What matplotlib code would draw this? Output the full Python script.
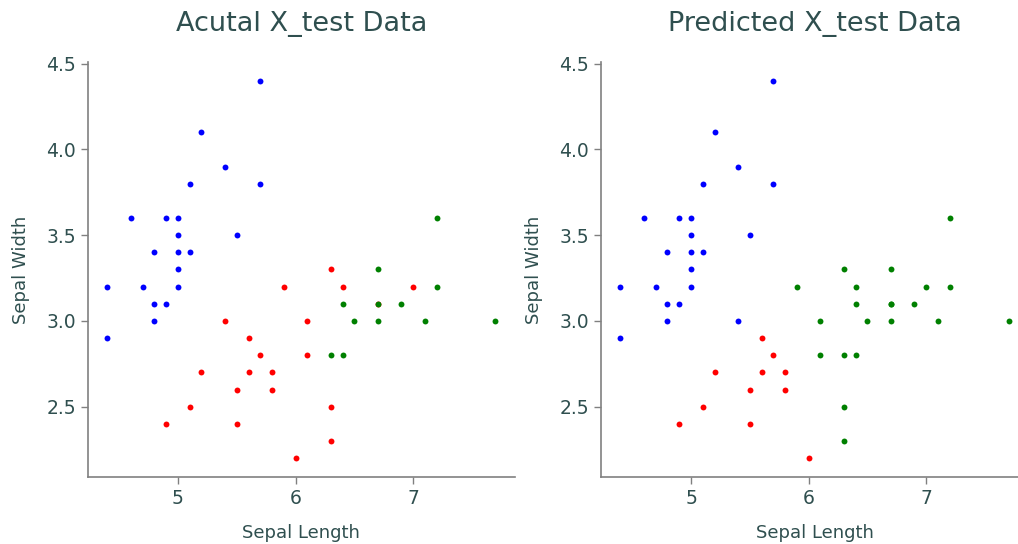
import matplotlib
matplotlib.use("Agg")
import matplotlib.pyplot as plt

# Test-set points (sepal length, sepal width), actual class and predicted class
sepal_length = [5.7, 5.2, 5.4, 5.1, 5.7, 4.6, 4.9, 5.0, 5.0, 5.5, 4.8, 5.0, 5.1, 5.0,
                4.4, 4.7, 5.0, 4.8, 4.9, 4.8, 4.4,
                5.9, 5.4, 5.6, 5.7, 5.2, 5.6, 5.8, 5.5, 5.8, 5.1, 4.9, 5.5, 6.0,
                6.3, 6.4, 7.0, 6.7, 6.1, 6.1, 6.3, 6.3,
                7.2, 6.7, 7.2, 6.4, 6.7, 6.9, 6.5, 6.7, 7.1, 7.7, 6.3, 6.4]
sepal_width = [4.4, 4.1, 3.9, 3.8, 3.8, 3.6, 3.6, 3.6, 3.5, 3.5, 3.4, 3.4, 3.4, 3.3,
               3.2, 3.2, 3.2, 3.1, 3.1, 3.0, 2.9,
               3.2, 3.0, 2.9, 2.8, 2.7, 2.7, 2.7, 2.6, 2.6, 2.5, 2.4, 2.4, 2.2,
               3.3, 3.2, 3.2, 3.1, 3.0, 2.8, 2.5, 2.3,
               3.6, 3.3, 3.2, 3.1, 3.1, 3.1, 3.0, 3.0, 3.0, 3.0, 2.8, 2.8]
actual = [0] * 21 + [1] * 21 + [2] * 12
predicted = ([0] * 21 +
             [2, 0, 1, 1, 1, 1, 1, 1, 1, 1, 1, 1, 1] +
             [2, 2, 2, 2, 2, 2, 2, 2] +
             [2] * 12)
class_colors = ["blue", "red", "green"]
titles = ["Acutal X_test Data", "Predicted X_test Data"]

text_color = "#2F4F4F"
spine_color = "#808080"

fig = plt.figure(figsize=(10.18, 5.44), dpi=100)
positions = [[0.0864, 0.1232, 0.4194, 0.7629], [0.5904, 0.1232, 0.4194, 0.7629]]

for pos, labels, title in zip(positions, [actual, predicted], titles):
    ax = fig.add_axes(pos)
    for cls, col in enumerate(class_colors):
        xs = [x for x, l in zip(sepal_length, labels) if l == cls]
        ys = [y for y, l in zip(sepal_width, labels) if l == cls]
        ax.scatter(xs, ys, c=col, s=18, linewidths=0)
    ax.set_title(title, fontsize=19.5, color=text_color, pad=22)
    ax.set_xlabel("Sepal Length", fontsize=13, color=text_color, labelpad=12)
    ax.set_ylabel("Sepal Width", fontsize=13, color=text_color, labelpad=12)
    ax.set_xticks([5, 6, 7])
    ax.set_yticks([2.5, 3.0, 3.5, 4.0, 4.5])
    ax.tick_params(labelsize=13.5, colors=spine_color, labelcolor=text_color, length=5, width=1)
    for s in ["top", "right"]:
        ax.spines[s].set_visible(False)
    for s in ["left", "bottom"]:
        ax.spines[s].set_color(spine_color)
        ax.spines[s].set_linewidth(1.2)

fig.savefig("out.png", dpi=100)
